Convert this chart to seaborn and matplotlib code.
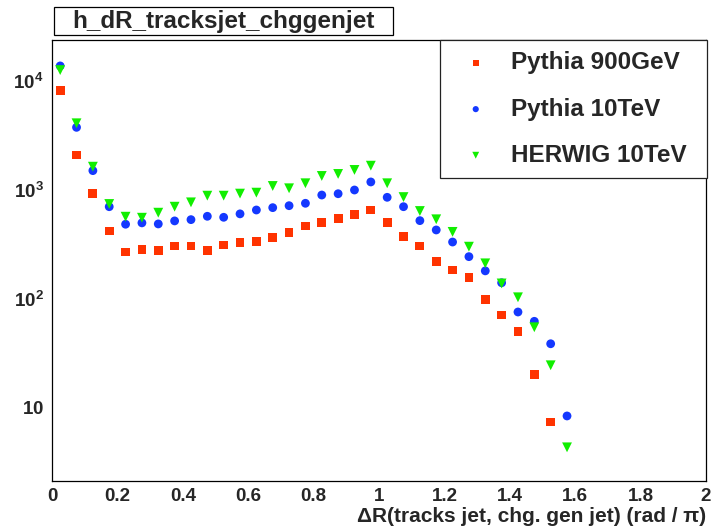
import numpy as np
import pandas as pd
import matplotlib
matplotlib.use("Agg")
import matplotlib.pyplot as plt
import matplotlib.ticker as mticker
from matplotlib.patches import Rectangle
import seaborn as sns

# ---- data ----
bin_centers = [0.025, 0.075, 0.125, 0.175, 0.225, 0.275, 0.325, 0.375,
               0.425, 0.475, 0.525, 0.575, 0.625, 0.675, 0.725, 0.775,
               0.825, 0.875, 0.925, 0.975, 1.025, 1.075, 1.125, 1.175,
               1.225, 1.275, 1.325, 1.375, 1.425, 1.475, 1.525, 1.575]
pythia_900 = [8160, 2080, 926, 418, 268, 282, 276, 304, 304, 276, 311, 327,
              334, 363, 407, 465, 498, 547, 594, 651, 498, 371, 304, 221,
              183, 156, 99, 71, 50, 20, 7.4, np.nan]
pythia_10 = [13650, 3730, 1495, 698, 482, 496, 485, 517, 531, 570, 558, 600,
             651, 684, 713, 750, 893, 918, 993, 1177, 851, 698, 520, 427,
             331, 243, 180, 140, 75.5, 62, 38.6, 8.4]
herwig_10 = [12500, 4065, 1625, 739, 565, 553, 615, 698, 765, 881, 881, 920,
             939, 1081, 1030, 1145, 1336, 1394, 1517, 1660, 1145, 855, 637, 535,
             410, 300, 211, 138, 103, 54.7, 24.5, 4.33]
series_names = ["Pythia 900GeV", "Pythia 10TeV", "HERWIG 10TeV"]
x_ticks = [0, 0.2, 0.4, 0.6, 0.8, 1.0, 1.2, 1.4, 1.6, 1.8, 2.0]
x_tick_labels = ["0", "0.2", "0.4", "0.6", "0.8", "1", "1.2", "1.4", "1.6", "1.8", "2"]
y_ticks = [10, 100, 1000, 10000]
y_tick_labels = [r"$\mathbf{10}$", r"$\mathbf{10^{2}}$", r"$\mathbf{10^{3}}$", r"$\mathbf{10^{4}}$"]
title_text = "h_dR_tracksjet_chggenjet"
x_label = "ΔR(tracks jet, chg. gen jet) (rad / π)"

# ---- style ----
sns.set_style("white")
plt.rcParams["font.family"] = ["Liberation Sans", "DejaVu Sans"]
plt.rcParams["mathtext.fontset"] = "custom"
plt.rcParams["mathtext.rm"] = "Liberation Sans"
plt.rcParams["mathtext.bf"] = "Liberation Sans:bold"

W, H = 711, 530
fig = plt.figure(figsize=(W / 100, H / 100), dpi=100)
left, right, top, bottom = 52, 706, 40, 480.7
ax = fig.add_axes([left / W, 1 - bottom / H, (right - left) / W, (bottom - top) / H])

df = pd.DataFrame({
    "x": bin_centers * 3,
    "y": pythia_900 + pythia_10 + herwig_10,
    "series": [series_names[0]] * len(bin_centers)
              + [series_names[1]] * len(bin_centers)
              + [series_names[2]] * len(bin_centers),
})
df = df.dropna()

colors = ["#ff3300", "#1438ff", "#11ee00"]
markers = ["s", "o", "v"]
sizes = [40, 40, 50]
for name, c, m, s in zip(series_names, colors, markers, sizes):
    sns.scatterplot(data=df[df["series"] == name], x="x", y="y", ax=ax,
                    marker=m, s=s, color=c, edgecolor="none", linewidth=0,
                    label=name, zorder=3)

ax.set_yscale("log")
ax.set_xlim(0, 2)
ax.set_ylim(2.14, 23600)

ax.xaxis.set_major_locator(mticker.FixedLocator(x_ticks))
ax.xaxis.set_major_formatter(mticker.FixedFormatter(x_tick_labels))
ax.xaxis.set_minor_locator(mticker.MultipleLocator(0.05))
ax.yaxis.set_major_locator(mticker.FixedLocator(y_ticks))
ax.yaxis.set_major_formatter(mticker.FixedFormatter(y_tick_labels))
ax.yaxis.set_minor_locator(mticker.LogLocator(base=10, subs=np.arange(2, 10)))
ax.yaxis.set_minor_formatter(mticker.NullFormatter())

ax.tick_params(axis="both", which="both", direction="in", top=False, right=False,
               width=0.8, color="black")
ax.tick_params(axis="y", which="major", length=14.9, pad=6, labelsize=13.5)
ax.tick_params(axis="y", which="minor", length=7.2)
ax.tick_params(axis="x", which="major", length=9.4, pad=5, labelsize=13.5)
ax.tick_params(axis="x", which="minor", length=4.5)
for lab in ax.get_xticklabels():
    lab.set_fontweight("bold")

for sp in ax.spines.values():
    sp.set_visible(True)
    sp.set_color("black")
    sp.set_linewidth(0.9)

ax.set_xlabel(x_label, loc="right", fontsize=15, fontweight="bold", labelpad=2)
ax.set_ylabel("")

# legend
leg = ax.legend(loc="upper left", bbox_to_anchor=(440 / W, 1 - 178 / H, 267 / W, 138 / H),
                bbox_transform=fig.transFigure, mode="expand", borderaxespad=0,
                frameon=True, fancybox=False, shadow=False, edgecolor="#222222",
                prop={"weight": "bold", "size": 17.5}, markerscale=0.7,
                handlelength=2.0, handletextpad=0.45, borderpad=0.47,
                labelspacing=0.95)
leg.get_frame().set_linewidth(0.9)
leg.get_frame().set_facecolor("white")
leg.get_frame().set_alpha(1)
leg.set_zorder(10)

# title box
fig.patches.append(Rectangle((53.6 / W, 1 - 35 / H), (392.8 - 53.6) / W, (35 - 7.3) / H,
                             transform=fig.transFigure, facecolor="white",
                             edgecolor="black", linewidth=0.9))
fig.text((53.6 + 392.8) / 2 / W, 1 - 21.2 / H, title_text, ha="center", va="center",
         fontsize=17.5, fontweight="bold")

fig.savefig("out.png", dpi=100)
